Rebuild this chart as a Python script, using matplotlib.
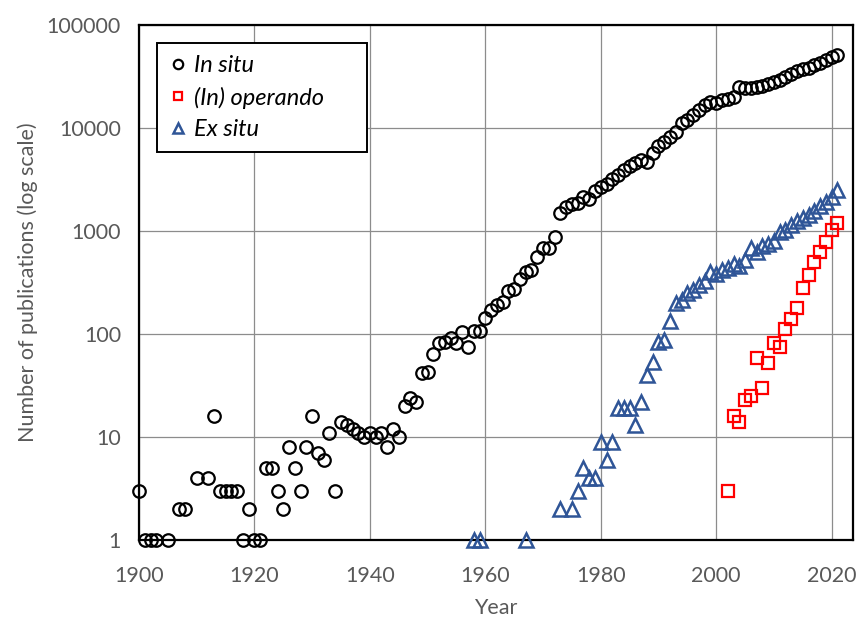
import matplotlib
matplotlib.use("Agg")
from matplotlib import pyplot as plt
from matplotlib.ticker import FixedLocator, NullLocator

plt.rcParams['font.family'] = ['Lato', 'DejaVu Sans']

in_situ_years = [1900, 1901, 1902, 1903, 1905, 1907, 1908, 1910, 1912, 1913,
                 1914, 1915, 1916, 1917, 1918, 1919, 1920, 1921] + list(range(1922, 2022))
in_situ_counts = [3, 1, 1, 1, 1, 2, 2, 4, 4, 16,
                  3, 3, 3, 3, 1, 2, 1, 1,
                  # 1922-1931
                  5, 5, 3, 2, 8, 5, 3, 8, 16, 7,
                  # 1932-1941
                  6, 11, 3, 14, 13, 12, 11, 10, 11, 10,
                  # 1942-1951
                  11, 8, 12, 10, 20, 24, 22, 42, 43, 64,
                  # 1952-1961
                  81, 83, 92, 82, 104, 74, 107, 107, 142, 171,
                  # 1962-1971
                  191, 206, 261, 272, 339, 396, 420, 555, 680, 690,
                  # 1972-1981
                  880, 1490, 1720, 1830, 1860, 2150, 2040, 2440, 2690, 2840,
                  # 1982-1991
                  3180, 3500, 3910, 4270, 4600, 4890, 4710, 5680, 6690, 7360,
                  # 1992-2001
                  8240, 9200, 11100, 11960, 13400, 15000, 16800, 18000, 17500, 18800,
                  # 2002-2011
                  19000, 20000, 24800, 24500, 24500, 25000, 25800, 26800, 28000, 29500,
                  # 2012-2021
                  31500, 33500, 35500, 37000, 38500, 40500, 43000, 45500, 48500, 51000]

operando_years = list(range(2002, 2022))
operando_counts = [3, 16, 14, 23, 25, 59, 30, 52, 81, 74,
                   111, 140, 178, 278, 374, 497, 621, 787, 1023, 1190]

ex_situ_years = [1958, 1959, 1967, 1973, 1975] + list(range(1976, 2022))
ex_situ_counts = [1, 1, 1, 2, 2,
                  # 1976-1985
                  3, 5, 4, 4, 9, 6, 9, 19, 19, 19,
                  # 1986-1995
                  13, 22, 40, 53, 84, 87, 134, 199, 214, 248,
                  # 1996-2005
                  270, 300, 330, 400, 380, 420, 440, 480, 460, 520,
                  # 2006-2015
                  680, 630, 710, 740, 800, 980, 1020, 1150, 1240, 1330,
                  # 2016-2021
                  1430, 1550, 1750, 1900, 2150, 2500]

y_ticks = [1, 10, 100, 1000, 10000, 100000]
x_ticks = [1900, 1920, 1940, 1960, 1980, 2000, 2020]

grey = '#595959'

fig = plt.figure(figsize=(8.59, 6.2), dpi=100)
ax = fig.add_axes([139 / 859, 1 - 540 / 620, 714 / 859, 515 / 620])

ax.plot(in_situ_years, in_situ_counts, linestyle='none', marker='o', markersize=9,
        markerfacecolor='none', markeredgecolor='black', markeredgewidth=1.6,
        clip_on=False, zorder=3, label='In situ')
ax.plot(operando_years, operando_counts, linestyle='none', marker='s', markersize=8.5,
        markerfacecolor='none', markeredgecolor='#ff0000', markeredgewidth=1.6,
        clip_on=False, zorder=3, label='(In) operando')
ax.plot(ex_situ_years, ex_situ_counts, linestyle='none', marker='^', markersize=10,
        markerfacecolor='none', markeredgecolor='#2f5597', markeredgewidth=1.8,
        clip_on=False, zorder=3, label='Ex situ')

ax.set_yscale('log')
ax.set_ylim(1, 100000)
ax.set_xlim(1900, 2023.7)
ax.yaxis.set_major_locator(FixedLocator(y_ticks))
ax.yaxis.set_minor_locator(NullLocator())
ax.set_yticklabels([str(v) for v in y_ticks])
ax.set_xticks(x_ticks)
ax.tick_params(axis='both', length=0, labelsize=15.5, colors=grey)
ax.tick_params(axis='x', pad=19)
ax.tick_params(axis='y', pad=13)
ax.grid(True, color='#8c8c8c', linewidth=0.9)
ax.set_axisbelow(True)
for side in ax.spines.values():
    side.set_color('black')
    side.set_linewidth(1.6)

ax.set_xlabel('Year', fontsize=15.5, color=grey, labelpad=8)
ax.set_ylabel('Number of publications (log scale)', fontsize=15.5, color=grey, labelpad=6)

leg = ax.legend(loc='upper left', bbox_to_anchor=(0.0248, 0.5, 0.294, 0.465),
                mode='expand', borderaxespad=0,
                fancybox=False, framealpha=1, edgecolor='black',
                prop={'style': 'italic', 'size': 17}, handlelength=0.8,
                handletextpad=0.3, borderpad=0.5, labelspacing=0.45, markerscale=0.75)
leg.get_frame().set_linewidth(1.4)

plt.savefig('out.png', dpi=100)
